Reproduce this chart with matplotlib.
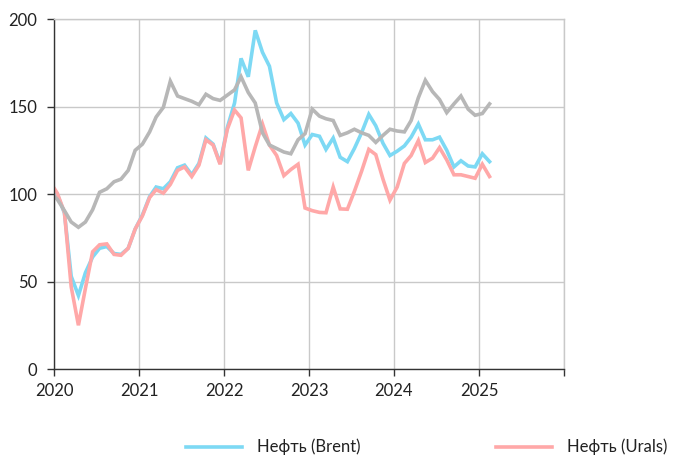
import pandas as pd
import matplotlib.pyplot as plt

plt.rcParams['font.family'] = ['Lato', 'DejaVu Sans']

CYAN = '#7dd9f4'
PINK = '#ffa8a8'
GREY = '#b7b7b7'
GRID = '#c9c9c9'

# monthly points, mid-month, Dec 2019 .. Feb 2025
dates = pd.date_range('2019-12-01', '2025-02-01', freq='MS') + pd.Timedelta(days=14)

brent = [105,
         100, 89, 53, 42, 55, 64, 69, 70, 66, 65.5, 69, 80,
         88, 98.5, 104, 103, 107, 115, 116.5, 111, 117.5, 132, 128.5, 117.5,
         138, 152, 177.5, 167, 193.5, 181, 173, 152, 142.5, 146, 140.5, 128,
         134, 133, 125.5, 132, 121, 118.5, 126, 135, 145.5, 139, 129, 122,
         124.5, 127.5, 132.5, 140, 131, 131, 132.5, 125, 115.5, 119, 116, 115.5,
         123, 118.5]

urals = [107,
         100.5, 89.5, 47, 25, 46, 67, 71, 71.5, 65.5, 65, 69, 80,
         87.5, 98, 102.5, 100.5, 105.5, 113.5, 115.5, 110, 116.5, 131, 128, 117,
         137, 148, 143.5, 113.5, 127, 140, 128, 122, 110.5, 114, 117, 92,
         90.5, 89.5, 89.3, 104, 91.5, 91.3, 101.5, 113, 125.5, 122.5, 108.5, 96.5,
         104, 117.5, 122, 130.5, 118, 120.5, 126.5, 119.5, 111, 111, 110, 109,
         117, 110]

other = [101,
         97, 90.5, 84, 81, 84, 91, 101, 103, 107, 108.5, 113.5, 125,
         128.5, 135.5, 144, 149.5, 164.5, 156, 154.5, 153, 151, 157, 154.5, 153.5,
         156.5, 159.5, 167, 158, 152, 135, 128, 126, 124, 123, 131, 134.5,
         148.5, 144.5, 143, 142, 133.5, 135, 137, 135, 133.5, 129.5, 133.5, 137,
         136, 135.5, 142, 155, 165, 158.5, 154, 146.5, 151.5, 156, 148.5, 145,
         146, 151.5]

years = [2020, 2021, 2022, 2023, 2024, 2025, 2026]
year_labels = ['2020', '2021', '2022', '2023', '2024', '2025', '']
y_ticks = [0, 50, 100, 150, 200]

fig = plt.figure(figsize=(6.74, 4.59), dpi=100)
ax = fig.add_axes([0.0801, 0.196, 0.7567, 0.7626])

ax.plot(dates, brent, color=CYAN, lw=2.6, label='Нефть (Brent)', solid_joinstyle='miter')
ax.plot(dates, urals, color=PINK, lw=2.6, label='Нефть (Urals)', solid_joinstyle='miter')
ax.plot(dates, other, color=GREY, lw=2.6, label='_nolegend_', solid_joinstyle='miter')

ax.set_xlim(pd.Timestamp('2020-01-01'), pd.Timestamp('2026-01-01'))
ax.set_ylim(0, 200)
ax.set_xticks([pd.Timestamp(f'{y}-01-01') for y in years])
ax.set_xticklabels(year_labels)
ax.set_yticks(y_ticks)

ax.grid(True, color=GRID, lw=1)
ax.set_axisbelow(True)
for side in ['top', 'right']:
    ax.spines[side].set_color(GRID)
    ax.spines[side].set_linewidth(1)
for side in ['left', 'bottom']:
    ax.spines[side].set_color('#333333')
    ax.spines[side].set_linewidth(1)

ax.tick_params(axis='both', direction='out', length=5, width=1, color='#333333',
               labelsize=12, labelcolor='#222222')
ax.tick_params(axis='y', pad=7)
ax.tick_params(axis='x', pad=5)

fig.legend(loc='center', bbox_to_anchor=(0.633, 0.026), ncol=2, frameon=False,
           fontsize=12, handlelength=3.4, columnspacing=8.1, handletextpad=0.9,
           labelcolor='#222222')

fig.savefig('out.png', dpi=100)
